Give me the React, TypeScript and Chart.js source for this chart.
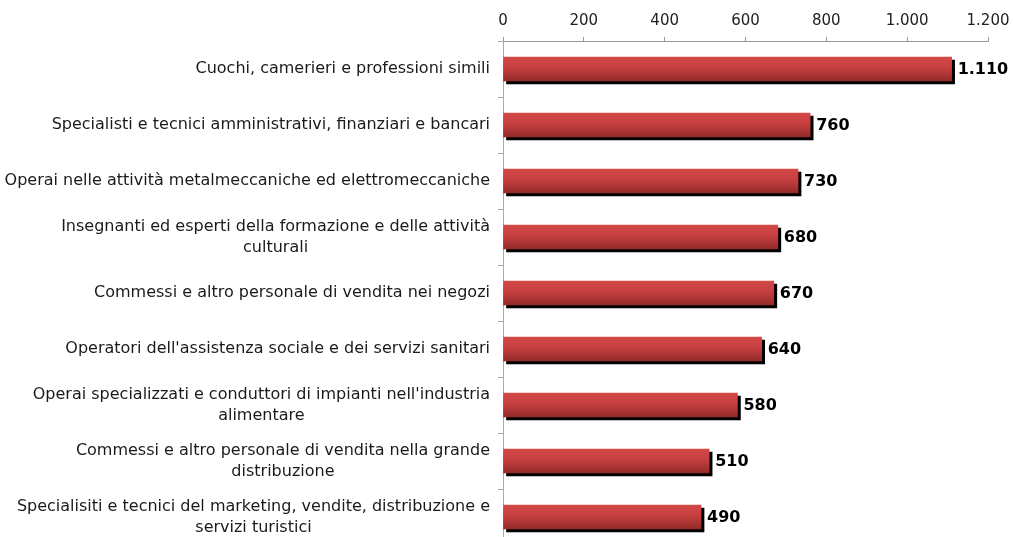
import React, { useEffect, useRef } from 'react';
import { Chart, registerables } from 'chart.js';

Chart.register(...registerables);

const categories: string[][] = [
  ['Cuochi, camerieri e professioni simili'],
  ['Specialisti e tecnici amministrativi, finanziari e bancari'],
  ['Operai nelle attività metalmeccaniche ed elettromeccaniche'],
  ['Insegnanti ed esperti della formazione e delle attività', 'culturali'],
  ['Commessi e altro personale di vendita nei negozi'],
  ["Operatori dell'assistenza sociale e dei servizi sanitari"],
  ["Operai specializzati e conduttori di impianti nell'industria", 'alimentare'],
  ['Commessi e altro personale di vendita nella grande', 'distribuzione'],
  ['Specialisiti e tecnici del marketing, vendite, distribuzione e', 'servizi turistici'],
];
const values: number[] = [1110, 760, 730, 680, 670, 640, 580, 510, 490];
const axisMin = 0;
const axisMax = 1200;
const axisStep = 200;

const FONT = '"DejaVu Sans", Verdana, sans-serif';

const fmt = (n: number) => String(Math.round(n)).replace(/\B(?=(\d{3})+(?!\d))/g, '.');

const catLabelPlugin = {
  id: 'catLabels',
  afterDraw(chart: any) {
    const ctx = chart.ctx;
    const ys = chart.scales.y;
    ctx.save();
    ctx.font = `16px ${FONT}`;
    ctx.fillStyle = '#1a1a1a';
    ctx.textBaseline = 'middle';
    ctx.textAlign = 'center';
    const right = ys.right - 13;
    const lh = 21;
    categories.forEach((lines, i) => {
      const cy = ys.getPixelForValue(i);
      const w = Math.max(...lines.map((l) => ctx.measureText(l).width));
      const cx = right - w / 2;
      lines.forEach((l, j) => {
        ctx.fillText(l, cx, cy + (j - (lines.length - 1) / 2) * lh);
      });
    });
    ctx.restore();
  },
};

const shadowPlugin = {
  id: 'barShadow',
  beforeDatasetsDraw(chart: any) {
    const ctx = chart.ctx;
    const meta = chart.getDatasetMeta(0);
    meta.data.forEach((bar: any) => {
      const h = bar.height || 24;
      const g = ctx.createLinearGradient(0, bar.y - h / 2, 0, bar.y + h / 2);
      g.addColorStop(0, '#D44747');
      g.addColorStop(0.45, '#C63F3F');
      g.addColorStop(1, '#942A2A');
      if (bar.options) bar.options.backgroundColor = g;
    });
    ctx.save();
    ctx.shadowColor = '#000000';
    ctx.shadowOffsetX = 3;
    ctx.shadowOffsetY = 3;
    ctx.shadowBlur = 0;
  },
  afterDatasetsDraw(chart: any) {
    const ctx = chart.ctx;
    ctx.restore();
    const meta = chart.getDatasetMeta(0);
    ctx.save();
    ctx.font = `bold 16px ${FONT}`;
    ctx.fillStyle = '#000000';
    ctx.textAlign = 'left';
    ctx.textBaseline = 'middle';
    meta.data.forEach((bar: any, i: number) => {
      ctx.fillText(fmt(values[i]), bar.x + 6, bar.y + 1);
    });
    ctx.restore();
  },
};

export default function App() {
  const ref = useRef<HTMLCanvasElement | null>(null);
  useEffect(() => {
    if (!ref.current) return;
    const chart = new Chart(ref.current, {
      type: 'bar',
      data: {
        labels: categories.map((c) => c.join(' ')),
        datasets: [
          {
            data: values,
            barThickness: 24,
            borderWidth: 0,
            backgroundColor: (c: any) => (c.dataIndex % 2 === 0 ? '#C63F3F' : '#C63F40'),
          },
        ],
      },
      options: {
        indexAxis: 'y',
        responsive: false,
        animation: false,
        layout: { padding: { top: 0, left: 0, right: 25, bottom: 1 } },
        plugins: { legend: { display: false }, tooltip: { enabled: false } },
        scales: {
          x: {
            position: 'top',
            min: axisMin,
            max: axisMax,
            ticks: {
              stepSize: axisStep,
              callback: (v: any) => fmt(Number(v)),
              font: { family: FONT, size: 15 },
              color: '#222',
              padding: 7,
              maxRotation: 0,
            },
            grid: { drawOnChartArea: false, tickLength: 4, color: '#999' },
            border: { color: '#999' },
            afterFit: (s: any) => {
              s.height = 41;
              s.paddingLeft = 0;
              s.paddingRight = 0;
            },
          },
          y: {
            type: 'category',
            offset: true,
            ticks: { display: false },
            grid: { drawOnChartArea: false, offset: true, tickLength: 5, color: '#aaa' },
            border: { color: '#aaa' },
            afterFit: (s: any) => {
              s.width = 503;
            },
          },
        },
      },
      plugins: [shadowPlugin, catLabelPlugin],
    } as any);
    return () => chart.destroy();
  }, []);
  return (
    <div style={{ position: 'fixed', left: 0, top: 0, width: 1013, height: 537, overflow: 'hidden', background: '#fff' }}>
      <canvas ref={ref} width={1013} height={546} style={{ display: 'block' }} />
    </div>
  );
}
